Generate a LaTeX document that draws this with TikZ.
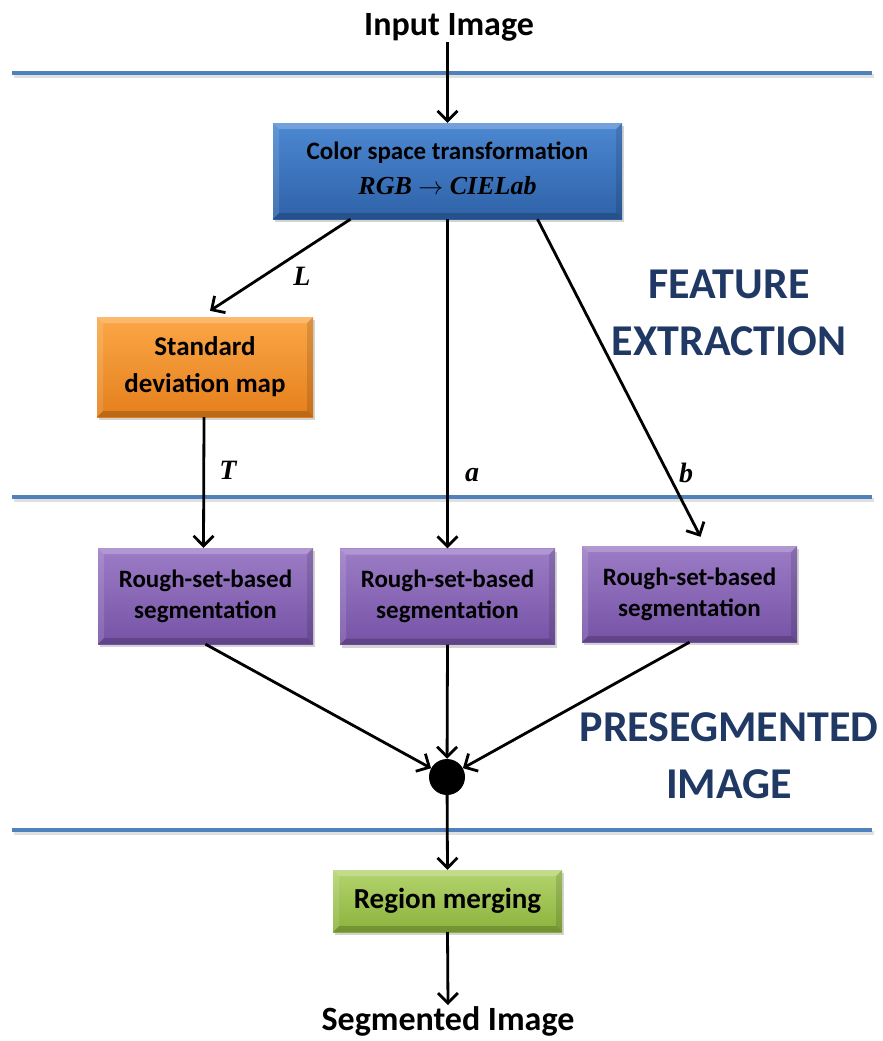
\documentclass[tikz,border=0pt]{standalone}
\usepackage{fontspec}
\setmainfont{Carlito}
\newfontfamily\labfont{Liberation Serif}
\usetikzlibrary{arrows.meta,shadows,calc}
\definecolor{hblue}{HTML}{4F81BD}
\definecolor{dkblue}{HTML}{1F3864}
\definecolor{bluetop}{HTML}{4C88D2}
\definecolor{bluebot}{HTML}{2E62A8}
\definecolor{ortop}{HTML}{FBA747}
\definecolor{orbot}{HTML}{E57F1C}
\definecolor{putop}{HTML}{9C7CC6}
\definecolor{pubot}{HTML}{7653A6}
\definecolor{grtop}{HTML}{B3D46E}
\definecolor{grbot}{HTML}{8CB23C}
\tikzset{
  bevbox/.style={inner sep=0pt, align=center, font=\bfseries\fontsize{25}{31}\selectfont,
    drop shadow={opacity=0.35, shadow xshift=2pt, shadow yshift=-3pt},
    path picture={
      \fill[white,opacity=0.22] (path picture bounding box.north west) -- (path picture bounding box.north east)
        -- ([xshift=-6pt,yshift=-6pt]path picture bounding box.north east) -- ([xshift=6pt,yshift=-6pt]path picture bounding box.north west) -- cycle;
      \fill[white,opacity=0.12] (path picture bounding box.north west) -- (path picture bounding box.south west)
        -- ([xshift=6pt,yshift=6pt]path picture bounding box.south west) -- ([xshift=6pt,yshift=-6pt]path picture bounding box.north west) -- cycle;
      \fill[black,opacity=0.18] (path picture bounding box.south west) -- (path picture bounding box.south east)
        -- ([xshift=-6pt,yshift=6pt]path picture bounding box.south east) -- ([xshift=6pt,yshift=6pt]path picture bounding box.south west) -- cycle;
      \fill[black,opacity=0.12] (path picture bounding box.north east) -- (path picture bounding box.south east)
        -- ([xshift=-6pt,yshift=6pt]path picture bounding box.south east) -- ([xshift=-6pt,yshift=-6pt]path picture bounding box.north east) -- cycle;
    }},
  bluebox/.style={bevbox, top color=bluetop, bottom color=bluebot, minimum width=349pt, minimum height=96pt},
  orbox/.style={bevbox, top color=ortop, bottom color=orbot, minimum width=216pt, minimum height=100pt,
    font=\bfseries\fontsize{27}{33}\selectfont},
  pubox/.style={bevbox, top color=putop, bottom color=pubot, minimum width=215pt, minimum height=96pt},
  grbox/.style={bevbox, top color=grtop, bottom color=grbot, minimum width=229pt, minimum height=62pt,
    font=\bfseries\fontsize{29}{34}\selectfont},
  arr/.style={line width=2.8pt, -{Straight Barb[length=10pt,width=20pt,line width=2.8pt]}},
  hline/.style={line width=4.5pt, hblue},
  hshadow/.style={line width=4pt, black, opacity=0.12},
  lab/.style={font=\labfont\bfseries\itshape\fontsize{28}{32}\selectfont},
  iotext/.style={font=\bfseries\fontsize{34}{40}\selectfont, inner sep=1pt},
  section/.style={font=\bfseries\fontsize{44}{57}\selectfont, text=dkblue, align=center}
}
\begin{document}
\begin{tikzpicture}[x=1pt,y=-1pt]
\useasboundingbox (0,0) rectangle (883,1041);
% horizontal section lines
\foreach \yy in {73,497,830} {
  \draw[hshadow] (14,\yy+3) -- (874,\yy+3);
  \draw[hline] (12,\yy) -- (872,\yy);
}
% nodes
\node[iotext] (in) at (449,27) {Input Image};
\node[bluebox] (cst) at (447.5,171) {\raisebox{5pt}{\begin{tabular}{@{}c@{}}Color space transformation\\[4pt]{\labfont\bfseries\itshape\fontsize{26}{30}\selectfont RGB $\rightarrow$ CIELab}\end{tabular}}};
\node[orbox] (sdm) at (205,367) {\raisebox{5pt}{\begin{tabular}{@{}c@{}}Standard\\[4pt]deviation map\end{tabular}}};
\node[pubox] (r1) at (205.5,596) {Rough-set-based\\segmentation};
\node[pubox] (r2) at (447.5,596.5) {Rough-set-based\\segmentation};
\node[pubox] (r3) at (689.5,594) {Rough-set-based\\segmentation};
\node[circle, fill=black, minimum size=36pt, inner sep=0pt] (dot) at (447,777) {};
\node[grbox] (rm) at (447.5,901) {Region merging};
\node[iotext] (out) at (448,1021) {Segmented Image};
\node[section] (fe) at (729,313) {FEATURE\\EXTRACTION};
\node[section] (pi) at (729,756) {PRESEGMENTED\\IMAGE};
% connectors
\draw[arr] (in.south -| cst.north) -- (cst.north);
\draw[arr] ([xshift=-97pt]cst.south) -- ([xshift=5pt,yshift=6pt]sdm.north);
\draw[arr] ([xshift=-1pt]sdm.south) -- ([xshift=-2pt]r1.north);
\draw[arr] (cst.south) -- (r2.north);
\draw[arr] ([xshift=90pt]cst.south) -- ([xshift=11pt,yshift=9pt]r3.north);
\draw[arr] (r1.south) -- (dot);
\draw[arr] (r2.south) -- (dot);
\draw[arr] (r3.south) -- (dot);
\draw[arr] (dot) -- (rm.north);
\draw[arr] (rm.south) -- (out.north);
% edge labels
\node[lab] (lL) at (302,276) {L};
\node[lab] (lT) at (228,470) {T};
\node[lab] (la) at (472,475) {a};
\node[lab] (lb) at (686,473) {b};
\end{tikzpicture}
\end{document}
